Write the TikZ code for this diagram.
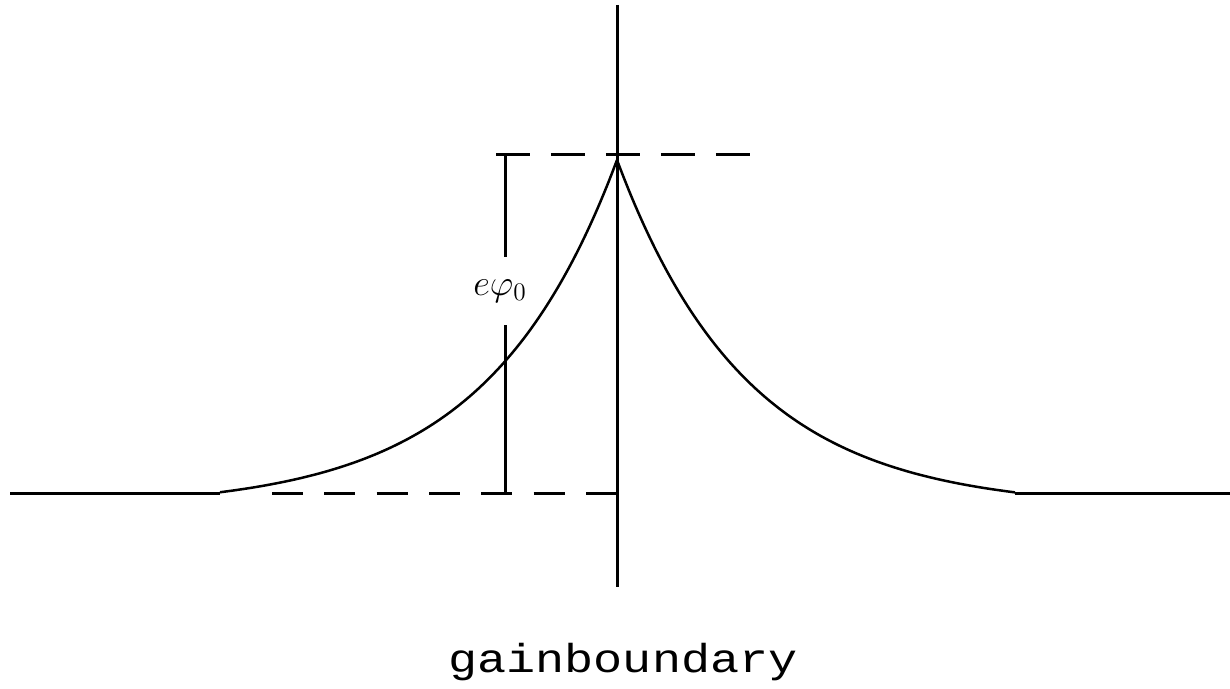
\documentclass[tikz,border=0pt]{standalone}
\usepackage{fontspec}
\newfontfamily\capfont{Liberation Mono}
\usetikzlibrary{positioning,calc}
\tikzset{
  axisline/.style={line width=0.06cm},
  guide/.style={line width=0.06cm, dash pattern=on 0.68cm off 0.42cm},
  guidelow/.style={line width=0.06cm, dash pattern=on 0.62cm off 0.427cm},
  curveline/.style={line width=0.05cm, smooth},
  caption/.style={font=\capfont\fontsize{23}{26}\selectfont, xscale=1.2, inner sep=0pt},
  maglabel/.style={font=\fontsize{21}{25}\selectfont, minimum height=1.36cm, inner sep=0pt}
}

\begin{document}
\begin{tikzpicture}[x=0.02cm, y=-0.02cm]
  \useasboundingbox (0,0) rectangle (1230,689);
  % axes
  \coordinate (top) at (617,5);
  \coordinate (bottom) at (617,587);
  \coordinate (left) at (10,493);
  \coordinate (right) at (1230,493);
  \coordinate (footL) at (220,493);
  \coordinate (footR) at (1015,493);
  \coordinate (base) at (617,493);
  \coordinate (tdl) at (496,155);
  \coordinate (tdr) at (750,155);
  \coordinate (bdl) at (272,493);
  \coordinate (mtop) at (505,155);
  \coordinate (mbot) at (505,493);

  \draw[axisline] (top) -- (bottom);
  \draw[axisline] (left) -- (footL);
  \draw[axisline] (footR) -- (right);

  % potential curve
  \draw[curveline] plot[domain=220:617, samples=90] (\x, {493-333*(exp(-(617-\x)/130)-0.045)/0.955});
  \draw[curveline] plot[domain=617:1015, samples=90] (\x, {493-333*(exp(-(\x-617)/130)-0.045)/0.955});

  \draw[guide] (tdl) -- (tdr);
  \draw[guidelow] (bdl) -- (base);

  % height marker
  \node[maglabel] (phi) at (500,291) {$e\varphi_0$};
  \draw[axisline] (mtop) -- (mtop |- phi.north);
  \draw[axisline] (mbot |- phi.south) -- (mbot);

  \node[caption, anchor=base] (title) at (623,672) {gainboundary};
\end{tikzpicture}
\end{document}
